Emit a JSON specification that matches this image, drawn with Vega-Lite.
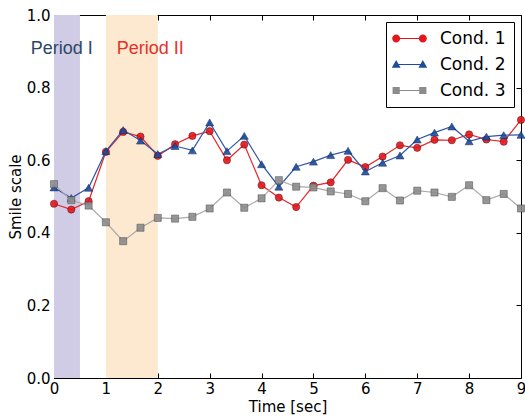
{
  "$schema": "https://vega.github.io/schema/vega-lite/v6.json",
  "width": 467,
  "height": 363,
  "autosize": {"type": "none"},
  "padding": {"left": 54, "top": 15, "right": 4, "bottom": 41},
  "background": "white",
  "config": {
    "view": {"stroke": "black", "strokeWidth": 1},
    "axis": {
      "grid": false, "domain": false,
      "labelFont": "DejaVu Sans", "labelFontSize": 15, "labelColor": "black",
      "titleFont": "DejaVu Sans", "titleFontSize": 15, "titleFontWeight": "normal", "titleColor": "black",
      "tickColor": "black", "tickSize": -5, "tickWidth": 1, "labelPadding": 8, "labelFlush": false
    }
  },
  "datasets": {
    "main": [
      {"t": 0, "v": 0.480, "cond": "Cond. 1"},
      {"t": 0.333, "v": 0.464, "cond": "Cond. 1"},
      {"t": 0.667, "v": 0.487, "cond": "Cond. 1"},
      {"t": 1, "v": 0.623, "cond": "Cond. 1"},
      {"t": 1.333, "v": 0.678, "cond": "Cond. 1"},
      {"t": 1.667, "v": 0.665, "cond": "Cond. 1"},
      {"t": 2, "v": 0.612, "cond": "Cond. 1"},
      {"t": 2.333, "v": 0.644, "cond": "Cond. 1"},
      {"t": 2.667, "v": 0.667, "cond": "Cond. 1"},
      {"t": 3, "v": 0.680, "cond": "Cond. 1"},
      {"t": 3.333, "v": 0.600, "cond": "Cond. 1"},
      {"t": 3.667, "v": 0.643, "cond": "Cond. 1"},
      {"t": 4, "v": 0.531, "cond": "Cond. 1"},
      {"t": 4.333, "v": 0.497, "cond": "Cond. 1"},
      {"t": 4.667, "v": 0.471, "cond": "Cond. 1"},
      {"t": 5, "v": 0.530, "cond": "Cond. 1"},
      {"t": 5.333, "v": 0.539, "cond": "Cond. 1"},
      {"t": 5.667, "v": 0.601, "cond": "Cond. 1"},
      {"t": 6, "v": 0.581, "cond": "Cond. 1"},
      {"t": 6.333, "v": 0.610, "cond": "Cond. 1"},
      {"t": 6.667, "v": 0.641, "cond": "Cond. 1"},
      {"t": 7, "v": 0.634, "cond": "Cond. 1"},
      {"t": 7.333, "v": 0.656, "cond": "Cond. 1"},
      {"t": 7.667, "v": 0.655, "cond": "Cond. 1"},
      {"t": 8, "v": 0.671, "cond": "Cond. 1"},
      {"t": 8.333, "v": 0.657, "cond": "Cond. 1"},
      {"t": 8.667, "v": 0.651, "cond": "Cond. 1"},
      {"t": 9, "v": 0.711, "cond": "Cond. 1"},
      {"t": 0, "v": 0.525, "cond": "Cond. 2"},
      {"t": 0.333, "v": 0.496, "cond": "Cond. 2"},
      {"t": 0.667, "v": 0.524, "cond": "Cond. 2"},
      {"t": 1, "v": 0.625, "cond": "Cond. 2"},
      {"t": 1.333, "v": 0.683, "cond": "Cond. 2"},
      {"t": 1.667, "v": 0.654, "cond": "Cond. 2"},
      {"t": 2, "v": 0.617, "cond": "Cond. 2"},
      {"t": 2.333, "v": 0.639, "cond": "Cond. 2"},
      {"t": 2.667, "v": 0.627, "cond": "Cond. 2"},
      {"t": 3, "v": 0.704, "cond": "Cond. 2"},
      {"t": 3.333, "v": 0.625, "cond": "Cond. 2"},
      {"t": 3.667, "v": 0.667, "cond": "Cond. 2"},
      {"t": 4, "v": 0.589, "cond": "Cond. 2"},
      {"t": 4.333, "v": 0.527, "cond": "Cond. 2"},
      {"t": 4.667, "v": 0.582, "cond": "Cond. 2"},
      {"t": 5, "v": 0.596, "cond": "Cond. 2"},
      {"t": 5.333, "v": 0.614, "cond": "Cond. 2"},
      {"t": 5.667, "v": 0.626, "cond": "Cond. 2"},
      {"t": 6, "v": 0.569, "cond": "Cond. 2"},
      {"t": 6.333, "v": 0.593, "cond": "Cond. 2"},
      {"t": 6.667, "v": 0.613, "cond": "Cond. 2"},
      {"t": 7, "v": 0.657, "cond": "Cond. 2"},
      {"t": 7.333, "v": 0.676, "cond": "Cond. 2"},
      {"t": 7.667, "v": 0.693, "cond": "Cond. 2"},
      {"t": 8, "v": 0.652, "cond": "Cond. 2"},
      {"t": 8.333, "v": 0.665, "cond": "Cond. 2"},
      {"t": 8.667, "v": 0.669, "cond": "Cond. 2"},
      {"t": 9, "v": 0.670, "cond": "Cond. 2"},
      {"t": 0, "v": 0.534, "cond": "Cond. 3"},
      {"t": 0.333, "v": 0.490, "cond": "Cond. 3"},
      {"t": 0.667, "v": 0.475, "cond": "Cond. 3"},
      {"t": 1, "v": 0.429, "cond": "Cond. 3"},
      {"t": 1.333, "v": 0.377, "cond": "Cond. 3"},
      {"t": 1.667, "v": 0.414, "cond": "Cond. 3"},
      {"t": 2, "v": 0.441, "cond": "Cond. 3"},
      {"t": 2.333, "v": 0.439, "cond": "Cond. 3"},
      {"t": 2.667, "v": 0.444, "cond": "Cond. 3"},
      {"t": 3, "v": 0.467, "cond": "Cond. 3"},
      {"t": 3.333, "v": 0.511, "cond": "Cond. 3"},
      {"t": 3.667, "v": 0.469, "cond": "Cond. 3"},
      {"t": 4, "v": 0.495, "cond": "Cond. 3"},
      {"t": 4.333, "v": 0.545, "cond": "Cond. 3"},
      {"t": 4.667, "v": 0.527, "cond": "Cond. 3"},
      {"t": 5, "v": 0.525, "cond": "Cond. 3"},
      {"t": 5.333, "v": 0.514, "cond": "Cond. 3"},
      {"t": 5.667, "v": 0.507, "cond": "Cond. 3"},
      {"t": 6, "v": 0.487, "cond": "Cond. 3"},
      {"t": 6.333, "v": 0.523, "cond": "Cond. 3"},
      {"t": 6.667, "v": 0.489, "cond": "Cond. 3"},
      {"t": 7, "v": 0.516, "cond": "Cond. 3"},
      {"t": 7.333, "v": 0.511, "cond": "Cond. 3"},
      {"t": 7.667, "v": 0.499, "cond": "Cond. 3"},
      {"t": 8, "v": 0.531, "cond": "Cond. 3"},
      {"t": 8.333, "v": 0.490, "cond": "Cond. 3"},
      {"t": 8.667, "v": 0.507, "cond": "Cond. 3"},
      {"t": 9, "v": 0.467, "cond": "Cond. 3"}
    ]
  },
  "resolve": {"axis": {"x": "independent", "y": "independent"}},
  "layer": [
    {
      "data": {"values": [{"period": "Period I", "start": 0, "end": 0.5}]},
      "mark": {"type": "rect", "fill": "#d0cce6"},
      "encoding": {
        "x": {"field": "start", "type": "quantitative", "scale": {"domain": [0, 9], "nice": false, "zero": false},
              "axis": {"orient": "bottom", "title": "Time [sec]", "values": [0,1,2,3,4,5,6,7,8,9], "format": "d", "titlePadding": 3}},
        "x2": {"field": "end"},
        "y": {"datum": 0, "type": "quantitative", "scale": {"domain": [0, 1], "nice": false},
              "axis": {"orient": "left", "title": "Smile scale", "values": [0, 0.2, 0.4, 0.6, 0.8, 1.0], "format": ".1f", "titlePadding": 3, "labelPadding": 9}},
        "y2": {"datum": 1}
      }
    },
    {
      "data": {"values": [{"period": "Period II", "start": 1, "end": 2}]},
      "mark": {"type": "rect", "fill": "#fde9d0"},
      "encoding": {
        "x": {"field": "start", "type": "quantitative",
              "axis": {"orient": "top", "title": null, "labels": false, "values": [0,1,2,3,4,5,6,7,8,9]}},
        "x2": {"field": "end"},
        "y": {"datum": 0, "type": "quantitative",
              "axis": {"orient": "right", "title": null, "labels": false, "values": [0, 0.2, 0.4, 0.6, 0.8, 1.0]}},
        "y2": {"datum": 1}
      }
    },
    {
      "data": {"name": "main"},
      "transform": [{"filter": "datum.cond === 'Cond. 1'"}],
      "mark": {"type": "line", "stroke": "#e8242a", "strokeWidth": 1.2,
               "point": {"shape": "circle", "filled": true, "size": 52, "fill": "#e3161c", "stroke": "#5a0000", "strokeWidth": 0.8, "strokeOpacity": 0.7, "opacity": 0.9}},
      "encoding": {
        "x": {"field": "t", "type": "quantitative", "axis": null},
        "y": {"field": "v", "type": "quantitative", "axis": null}
      }
    },
    {
      "data": {"name": "main"},
      "transform": [{"filter": "datum.cond === 'Cond. 2'"}],
      "mark": {"type": "line", "stroke": "#2f58aa", "strokeWidth": 1.2,
               "point": {"shape": "triangle-up", "filled": true, "size": 64, "fill": "#1d4c9e", "stroke": "#0a1e50", "strokeWidth": 0.8, "strokeOpacity": 0.7, "opacity": 0.9}},
      "encoding": {
        "x": {"field": "t", "type": "quantitative", "axis": null},
        "y": {"field": "v", "type": "quantitative", "axis": null}
      }
    },
    {
      "data": {"name": "main"},
      "transform": [{"filter": "datum.cond === 'Cond. 3'"}],
      "mark": {"type": "line", "stroke": "#aaaaaa", "strokeWidth": 1.2,
               "point": {"shape": "square", "filled": true, "size": 50, "fill": "#8c8c8c", "stroke": "#444444", "strokeWidth": 0.8, "strokeOpacity": 0.7, "opacity": 0.9}},
      "encoding": {
        "x": {"field": "t", "type": "quantitative", "axis": null},
        "y": {"field": "v", "type": "quantitative", "axis": null}
      }
    },
    {
      "data": {"name": "main"},
      "mark": {"type": "point", "filled": true, "opacity": 0, "size": 64},
      "encoding": {
        "x": {"field": "t", "type": "quantitative", "axis": null},
        "y": {"field": "v", "type": "quantitative", "axis": null},
        "fill": {"field": "cond", "type": "nominal",
                 "scale": {"domain": ["Cond. 1", "Cond. 2", "Cond. 3"], "range": ["#e3161c", "#1d4c9e", "#8c8c8c"]},
                 "legend": {"title": null, "orient": "top-right", "offset": 7,
                             "strokeColor": "black", "fillColor": "white", "padding": 8, "cornerRadius": 0,
                             "symbolSize": 64, "symbolOpacity": 1, "symbolStrokeWidth": 0,
                             "labelFont": "DejaVu Sans", "labelFontSize": 17, "labelColor": "black",
                             "rowPadding": 8, "symbolOffset": 7, "labelOffset": 22}},
        "shape": {"field": "cond", "type": "nominal",
                  "scale": {"domain": ["Cond. 1", "Cond. 2", "Cond. 3"],
                            "range": [
                              "M-3.33,-0.13 L3.33,-0.13 L3.33,0.13 L-3.33,0.13 Z M-2.33,0 A1,1 0 1,1 -4.33,0 A1,1 0 1,1 -2.33,0 Z M4.33,0 A1,1 0 1,1 2.33,0 A1,1 0 1,1 4.33,0 Z",
                              "M-3.33,-0.13 L3.33,-0.13 L3.33,0.13 L-3.33,0.13 Z M-3.33,-1.1 L-2.23,0.8 L-4.43,0.8 Z M3.33,-1.1 L4.43,0.8 L2.23,0.8 Z",
                              "M-3.33,-0.13 L3.33,-0.13 L3.33,0.13 L-3.33,0.13 Z M-4.23,-0.9 L-2.43,-0.9 L-2.43,0.9 L-4.23,0.9 Z M2.43,-0.9 L4.23,-0.9 L4.23,0.9 L2.43,0.9 Z"
                            ]},
                  "legend": {"title": null, "orient": "top-right", "offset": 7,
                             "strokeColor": "black", "fillColor": "white", "padding": 8, "cornerRadius": 0,
                             "symbolSize": 64, "symbolOpacity": 1, "symbolStrokeWidth": 0,
                             "labelFont": "DejaVu Sans", "labelFontSize": 17, "labelColor": "black",
                             "rowPadding": 8, "symbolOffset": 7, "labelOffset": 22}}
      }
    },
    {
      "data": {"values": [{"label": "Period I", "t": -0.45, "v": 0.893}]},
      "mark": {"type": "text", "align": "left", "baseline": "alphabetic", "font": "Liberation Sans", "fontSize": 18, "fill": "#2c4668"},
      "encoding": {
        "x": {"field": "t", "type": "quantitative", "axis": null},
        "y": {"field": "v", "type": "quantitative", "axis": null},
        "text": {"field": "label"}
      }
    },
    {
      "data": {"values": [{"label": "Period II", "t": 1.21, "v": 0.893}]},
      "mark": {"type": "text", "align": "left", "baseline": "alphabetic", "font": "Liberation Sans", "fontSize": 18, "fill": "#e8302a"},
      "encoding": {
        "x": {"field": "t", "type": "quantitative", "axis": null},
        "y": {"field": "v", "type": "quantitative", "axis": null},
        "text": {"field": "label"}
      }
    }
  ]
}
